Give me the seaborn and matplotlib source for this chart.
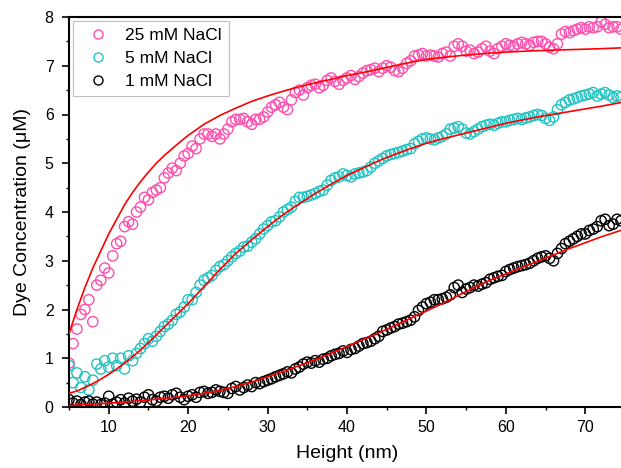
import numpy as np
import pandas as pd
import matplotlib
matplotlib.use("Agg")
import matplotlib.pyplot as plt
from matplotlib.ticker import MultipleLocator
from matplotlib.lines import Line2D
import seaborn as sns

sns.set_style('ticks')
plt.rcParams['font.family'] = ['Liberation Sans', 'DejaVu Sans']
plt.rcParams['text.color'] = 'black'
plt.rcParams['axes.labelcolor'] = 'black'

# 測定点の高さ (nm)
height = [5.0, 5.5, 6.0, 6.5, 7.0, 7.5, 8.0, 8.5, 9.0, 9.5,
          10.0, 10.5, 11.0, 11.5, 12.0, 12.5, 13.0, 13.5, 14.0, 14.5,
          15.0, 15.5, 16.0, 16.5, 17.0, 17.5, 18.0, 18.5, 19.0, 19.5,
          20.0, 20.5, 21.0, 21.5, 22.0, 22.5, 23.0, 23.5, 24.0, 24.5,
          25.0, 25.5, 26.0, 26.5, 27.0, 27.5, 28.0, 28.5, 29.0, 29.5,
          30.0, 30.5, 31.0, 31.5, 32.0, 32.5, 33.0, 33.5, 34.0, 34.5,
          35.0, 35.5, 36.0, 36.5, 37.0, 37.5, 38.0, 38.5, 39.0, 39.5,
          40.0, 40.5, 41.0, 41.5, 42.0, 42.5, 43.0, 43.5, 44.0, 44.5,
          45.0, 45.5, 46.0, 46.5, 47.0, 47.5, 48.0, 48.5, 49.0, 49.5,
          50.0, 50.5, 51.0, 51.5, 52.0, 52.5, 53.0, 53.5, 54.0, 54.5,
          55.0, 55.5, 56.0, 56.5, 57.0, 57.5, 58.0, 58.5, 59.0, 59.5,
          60.0, 60.5, 61.0, 61.5, 62.0, 62.5, 63.0, 63.5, 64.0, 64.5,
          65.0, 65.5, 66.0, 66.5, 67.0, 67.5, 68.0, 68.5, 69.0, 69.5,
          70.0, 70.5, 71.0, 71.5, 72.0, 72.5, 73.0, 73.5, 74.0, 74.5]

# 25 mM NaCl
conc_25 = [0.9, 1.3, 1.6, 1.9, 2.0, 2.2, 1.75, 2.5, 2.6, 2.85,
           2.75, 3.1, 3.35, 3.4, 3.7, 3.8, 3.75, 4.0, 4.1, 4.3,
           4.25, 4.4, 4.45, 4.5, 4.7, 4.8, 4.9, 4.85, 5.0, 5.15,
           5.2, 5.35, 5.3, 5.5, 5.6, 5.6, 5.55, 5.6, 5.5, 5.6,
           5.7, 5.85, 5.9, 5.9, 5.92, 5.85, 5.8, 5.9, 5.9, 5.95,
           6.05, 6.15, 6.2, 6.25, 6.15, 6.1, 6.3, 6.45, 6.5, 6.4,
           6.55, 6.6, 6.62, 6.55, 6.6, 6.7, 6.75, 6.68, 6.62, 6.7,
           6.75, 6.8, 6.72, 6.78, 6.85, 6.9, 6.92, 6.95, 6.88, 6.95,
           7.0, 6.97, 6.9, 6.88, 6.95, 7.05, 7.1, 7.2, 7.22, 7.25,
           7.2, 7.22, 7.2, 7.18, 7.25, 7.28, 7.2, 7.4, 7.45, 7.4,
           7.3, 7.32, 7.25, 7.28, 7.35, 7.4, 7.3, 7.25, 7.35, 7.4,
           7.45, 7.42, 7.4, 7.45, 7.48, 7.45, 7.42, 7.48, 7.5, 7.5,
           7.45, 7.38, 7.35, 7.45, 7.65, 7.7, 7.68, 7.72, 7.75, 7.78,
           7.75, 7.8, 7.78, 7.8, 7.9, 7.85, 7.78, 7.8, 7.8, 7.75]

# 5 mM NaCl
conc_5 = [0.85, 0.5, 0.7, 0.4, 0.62, 0.35, 0.55, 0.88, 0.78, 0.95,
          0.82, 1.0, 0.85, 1.0, 0.78, 1.05, 0.95, 1.1, 1.2, 1.3,
          1.4, 1.35, 1.45, 1.55, 1.65, 1.7, 1.78, 1.9, 1.95, 2.05,
          2.2, 2.2, 2.35, 2.5, 2.6, 2.65, 2.7, 2.8, 2.88, 2.92,
          3.0, 3.08, 3.15, 3.2, 3.28, 3.3, 3.38, 3.45, 3.55, 3.65,
          3.72, 3.8, 3.82, 3.9, 4.0, 4.05, 4.1, 4.22, 4.3, 4.3,
          4.32, 4.35, 4.38, 4.42, 4.45, 4.55, 4.65, 4.7, 4.72, 4.78,
          4.75, 4.72, 4.78, 4.8, 4.82, 4.85, 4.92, 5.0, 5.05, 5.1,
          5.15, 5.18, 5.2, 5.22, 5.25, 5.28, 5.3, 5.4, 5.45, 5.5,
          5.52, 5.5, 5.48, 5.52, 5.55, 5.6, 5.7, 5.72, 5.75, 5.7,
          5.62, 5.6, 5.65, 5.7, 5.75, 5.78, 5.8, 5.78, 5.82, 5.85,
          5.85, 5.88, 5.9, 5.92, 5.9, 5.93, 5.95, 5.98, 6.0, 5.98,
          5.92, 5.88, 5.95, 6.1, 6.2, 6.25, 6.3, 6.32, 6.35, 6.38,
          6.4, 6.42, 6.45, 6.38, 6.42, 6.45, 6.4, 6.35, 6.38, 6.35]

# 1 mM NaCl
conc_1 = [0.15, 0.08, 0.12, 0.05, 0.1, 0.12, 0.06, 0.1, 0.05, 0.08,
          0.22, 0.06, 0.1, 0.15, 0.08, 0.18, 0.12, 0.16, 0.1, 0.2,
          0.25, 0.15, 0.12, 0.2, 0.22, 0.18, 0.25, 0.28, 0.2, 0.15,
          0.22, 0.25, 0.2, 0.3, 0.32, 0.28, 0.3, 0.35, 0.32, 0.3,
          0.28, 0.38, 0.42, 0.35, 0.4, 0.45, 0.42, 0.5, 0.48, 0.52,
          0.55, 0.58, 0.62, 0.65, 0.68, 0.72, 0.7, 0.78, 0.82, 0.88,
          0.92, 0.9, 0.95, 0.92, 0.98, 1.0, 1.05, 1.08, 1.1, 1.15,
          1.12, 1.18, 1.2, 1.25, 1.3, 1.32, 1.35, 1.4, 1.45, 1.55,
          1.58, 1.62, 1.65, 1.7, 1.72, 1.75, 1.78, 1.85, 1.98, 2.05,
          2.12, 2.15, 2.2, 2.2, 2.22, 2.25, 2.3, 2.45, 2.5, 2.35,
          2.42, 2.45, 2.5, 2.48, 2.52, 2.55, 2.62, 2.65, 2.68, 2.7,
          2.78, 2.82, 2.85, 2.88, 2.9, 2.92, 2.95, 3.0, 3.05, 3.08,
          3.1, 3.05, 3.0, 3.15, 3.25, 3.35, 3.4, 3.45, 3.5, 3.55,
          3.55, 3.62, 3.65, 3.7, 3.82, 3.85, 3.72, 3.75, 3.85, 3.82]

# フィット曲線 (赤線)
fit_x = [5, 6, 7, 8, 9, 10, 11, 12, 13, 14, 15, 16, 17, 18, 19, 20,
         22, 24, 26, 28, 30, 32, 34, 36, 38, 40, 42, 44, 46, 48, 50,
         52, 55, 58, 60, 64, 68, 72, 75]
fit_25 = [1.5, 2.0, 2.45, 2.85, 3.2, 3.55, 3.85, 4.15, 4.4, 4.62, 4.82, 5.0, 5.16, 5.3, 5.44, 5.57,
          5.8, 5.98, 6.13, 6.27, 6.38, 6.48, 6.57, 6.65, 6.72, 6.8, 6.86, 6.93, 7.0, 7.07, 7.13,
          7.17, 7.22, 7.26, 7.28, 7.31, 7.33, 7.35, 7.37]
fit_5 = [0.28, 0.33, 0.4, 0.48, 0.57, 0.67, 0.78, 0.9, 1.03, 1.17, 1.32, 1.48, 1.64, 1.8, 1.96, 2.12,
         2.47, 2.82, 3.15, 3.43, 3.7, 3.95, 4.17, 4.38, 4.57, 4.75, 4.9, 5.05, 5.18, 5.3, 5.41,
         5.5, 5.62, 5.74, 5.82, 5.95, 6.06, 6.17, 6.26]
fit_1 = [0.03, 0.04, 0.05, 0.06, 0.07, 0.08, 0.09, 0.1, 0.115, 0.13, 0.145, 0.16, 0.175, 0.19, 0.21, 0.23,
         0.28, 0.34, 0.42, 0.51, 0.62, 0.73, 0.85, 0.97, 1.1, 1.24, 1.38, 1.52, 1.67, 1.82, 1.97,
         2.12, 2.37, 2.6, 2.73, 2.99, 3.25, 3.49, 3.65]

labels = ['25 mM NaCl', '5 mM NaCl', '1 mM NaCl']
colors = ['#ff4fae', '#22c3c3', '#000000']

fig = plt.figure(figsize=(6.21, 4.68), dpi=100)
ax = fig.add_axes([69 / 621, 61 / 468, 556 / 621, 390 / 468])

for conc, col in zip([conc_25, conc_5, conc_1], colors):
    sns.scatterplot(x=height, y=conc, ax=ax, s=55, marker='o', facecolors='none',
                    edgecolor=col, linewidth=1.0, zorder=2)

for fit in [fit_25, fit_5, fit_1]:
    sns.lineplot(x=fit_x, y=fit, ax=ax, color='#ff0000', linewidth=1.2, zorder=3,
                 estimator=None, sort=False)

ax.set_xlim(5, 75)
ax.set_ylim(0, 8)
ax.xaxis.set_major_locator(MultipleLocator(10))
ax.xaxis.set_minor_locator(MultipleLocator(5))
ax.yaxis.set_major_locator(MultipleLocator(1))
ax.yaxis.set_minor_locator(MultipleLocator(0.5))
ax.set_xticks([10, 20, 30, 40, 50, 60, 70])
ax.tick_params(which='major', direction='out', length=5, width=1.2, labelsize=11.5,
               colors='#000000', labelcolor='#000000', pad=4.5)
ax.tick_params(axis='y', which='major', pad=6)
ax.tick_params(which='minor', direction='out', length=2.5, width=1.0, colors='#000000')
for sp in ax.spines.values():
    sp.set_linewidth(1.5)
    sp.set_color('#000000')

ax.set_xlabel('Height (nm)', fontsize=14, labelpad=7, color='black')
ax.set_ylabel('Dye Concentration (μM)', fontsize=14, labelpad=10, color='black')

# 凡例は手動で作成
handles = [Line2D([], [], linestyle='none', marker='o', markersize=6.5, markerfacecolor='none',
                  markeredgecolor=c, markeredgewidth=1.0) for c in colors]
leg = ax.legend(handles, labels, loc='upper left', fontsize=12.5, frameon=True, fancybox=False,
                edgecolor='#b0b0b0', borderaxespad=0.25, handletextpad=0.6,
                labelspacing=0.45, borderpad=0.4, labelcolor='black')
leg.get_frame().set_linewidth(0.8)

fig.savefig('out.png', dpi=100)
